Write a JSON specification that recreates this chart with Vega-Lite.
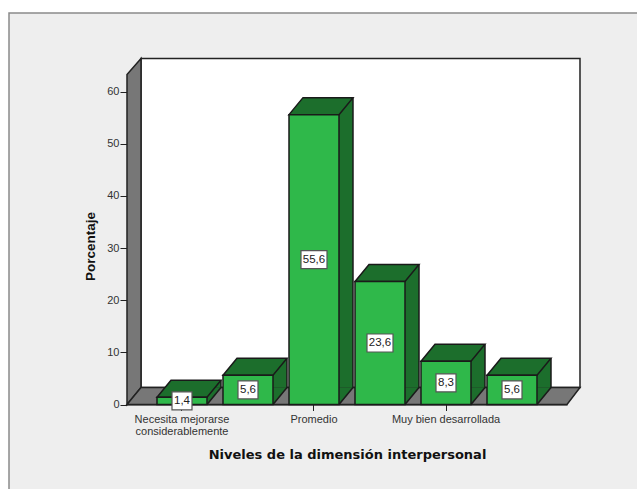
{
  "$schema": "https://vega.github.io/schema/vega-lite/v6.json",
  "width": 630,
  "height": 478,
  "padding": {"left": 9, "top": 13, "right": -2, "bottom": -2},
  "autosize": "none",
  "background": "#ffffff",
  "view": {"fill": "#eeeeee", "stroke": "#8a8a8a", "strokeWidth": 1.5},
  "config": {
    "locale": {"number": {"decimal": ",", "thousands": ".", "grouping": [3], "currency": ["", " €"]}},
    "font": "Liberation Sans"
  },
  "data": {
    "values": [
      {"nivel": 1, "porcentaje": 1.4},
      {"nivel": 2, "porcentaje": 5.6},
      {"nivel": 3, "porcentaje": 55.6},
      {"nivel": 4, "porcentaje": 23.6},
      {"nivel": 5, "porcentaje": 8.3},
      {"nivel": 6, "porcentaje": 5.6}
    ]
  },
  "transform": [{"calculate": "datum.porcentaje / 2", "as": "mitad"}],
  "encoding": {
    "x": {
      "field": "nivel",
      "type": "ordinal",
      "sort": null,
      "scale": {"range": [118, 558], "paddingInner": 0.2424, "paddingOuter": 0.4545, "round": false},
      "axis": {
        "title": "Niveles de la dimensión interpersonal",
        "titleFont": "DejaVu Sans",
        "titleFontWeight": "bold",
        "titleFontSize": 13,
        "titleColor": "#111111",
        "titleX": 338,
        "titleY": 50,
        "titleBaseline": "middle",
        "titleAnchor": null,
        "offset": -86.5,
        "values": [1, 3, 5],
        "labelAngle": 0,
        "labelExpr": "datum.value == 1 ? ['Necesita mejorarse', 'considerablemente'] : datum.value == 3 ? 'Promedio' : 'Muy bien desarrollada'",
        "labelFontSize": 11,
        "labelColor": "#333333",
        "labelLineHeight": 12,
        "labelPadding": 3,
        "labelOverlap": false,
        "labelBound": false,
        "tickSize": 6,
        "tickColor": "#222222",
        "tickWidth": 1,
        "domainColor": "#222222",
        "grid": false
      }
    },
    "y": {
      "field": "porcentaje",
      "type": "quantitative",
      "scale": {"domain": [0, 63.3], "range": [391.5, 61.5], "nice": false, "zero": true},
      "axis": {
        "title": "Porcentaje",
        "titleFont": "Liberation Sans",
        "titleFontWeight": "bold",
        "titleFontSize": 13.5,
        "titleColor": "#111111",
        "titleX": -37,
        "titleY": 233,
        "titleBaseline": "middle",
        "offset": -118,
        "values": [0, 10, 20, 30, 40, 50, 60],
        "labelFontSize": 11,
        "labelColor": "#333333",
        "labelPadding": 1,
        "tickSize": 7,
        "tickColor": "#222222",
        "tickWidth": 1,
        "domainColor": "#222222",
        "grid": false
      }
    }
  },
  "layer": [
    {
      "description": "Pared del fondo",
      "transform": [{"filter": "datum.nivel == 1"}],
      "mark": {"type": "point", "filled": true, "opacity": 1, "size": 4, "fill": "#ffffff", "stroke": "#222222", "strokeWidth": 1.5, "shape": "M-41,-17 L398,-17 L398,-346 L-41,-346 Z"},
      "encoding": {"y": {"datum": 0}}
    },
    {
      "description": "Pared lateral",
      "transform": [{"filter": "datum.nivel == 1"}],
      "mark": {"type": "point", "filled": true, "opacity": 1, "size": 4, "fill": "#777777", "stroke": "#222222", "strokeWidth": 1.5, "shape": "M-55,0 L-41,-17 L-41,-346 L-55,-330 Z"},
      "encoding": {"y": {"datum": 0}}
    },
    {
      "description": "Piso",
      "transform": [{"filter": "datum.nivel == 1"}],
      "mark": {"type": "point", "filled": true, "opacity": 1, "size": 4, "fill": "#777777", "stroke": "#222222", "strokeWidth": 1.5, "shape": "M-55,0 L-41,-17 L398,-17 L385,0 Z"},
      "encoding": {"y": {"datum": 0}}
    },
    {
      "description": "Cara lateral de cada barra",
      "mark": {"type": "bar", "width": 14, "xOffset": 32, "yOffset": -17, "y2Offset": -17, "fill": "#1c6e2c", "stroke": null},
      "encoding": {"y2": {"datum": 0}}
    },
    {
      "description": "Cuña inferior de la cara lateral",
      "mark": {"type": "point", "filled": true, "opacity": 1, "size": 4, "fill": "#1c6e2c", "strokeWidth": 0, "shape": "M25,0 L39,-17 L25,-17 Z"},
      "encoding": {"y": {"datum": 0}}
    },
    {
      "description": "Arista inferior de la cara lateral",
      "mark": {"type": "point", "filled": false, "opacity": 1, "size": 4, "stroke": "#1a1a1a", "strokeWidth": 1.5, "shape": "M25,0 L39,-17"},
      "encoding": {"y": {"datum": 0}}
    },
    {
      "description": "Arista trasera de la cara lateral",
      "mark": {"type": "rule", "xOffset": 39, "yOffset": -17, "y2Offset": -17, "stroke": "#1a1a1a", "strokeWidth": 1.5},
      "encoding": {"y2": {"datum": 0}}
    },
    {
      "description": "Cara superior de cada barra",
      "mark": {"type": "point", "filled": true, "opacity": 1, "size": 4, "fill": "#1c6e2c", "stroke": "#1a1a1a", "strokeWidth": 1.5, "shape": "M-25,0 L25,0 L39,-17 L-11,-17 Z"}
    },
    {
      "description": "Cara frontal de cada barra",
      "mark": {"type": "bar", "fill": "#2fb84a", "stroke": "#1a1a1a", "strokeWidth": 1.5},
      "encoding": {"y2": {"datum": 0}}
    },
    {
      "description": "Recuadro de etiqueta, valores de un dígito",
      "transform": [{"filter": "datum.porcentaje < 10"}],
      "mark": {"type": "point", "filled": true, "opacity": 1, "size": 4, "fill": "#ffffff", "stroke": "#555555", "strokeWidth": 1.2, "shape": "M-10,-9 L10,-9 L10,9 L-10,9 Z"},
      "encoding": {"y": {"field": "mitad", "type": "quantitative"}}
    },
    {
      "description": "Recuadro de etiqueta, valores de dos dígitos",
      "transform": [{"filter": "datum.porcentaje >= 10"}],
      "mark": {"type": "point", "filled": true, "opacity": 1, "size": 4, "fill": "#ffffff", "stroke": "#555555", "strokeWidth": 1.2, "shape": "M-13,-9 L13,-9 L13,9 L-13,9 Z"},
      "encoding": {"y": {"field": "mitad", "type": "quantitative"}}
    },
    {
      "description": "Valor de cada barra",
      "mark": {"type": "text", "font": "Liberation Sans", "fontSize": 11.5, "fill": "#222222", "align": "center", "baseline": "middle"},
      "encoding": {
        "y": {"field": "mitad", "type": "quantitative"},
        "text": {"field": "porcentaje", "type": "quantitative", "format": ".1f"}
      }
    }
  ]
}
